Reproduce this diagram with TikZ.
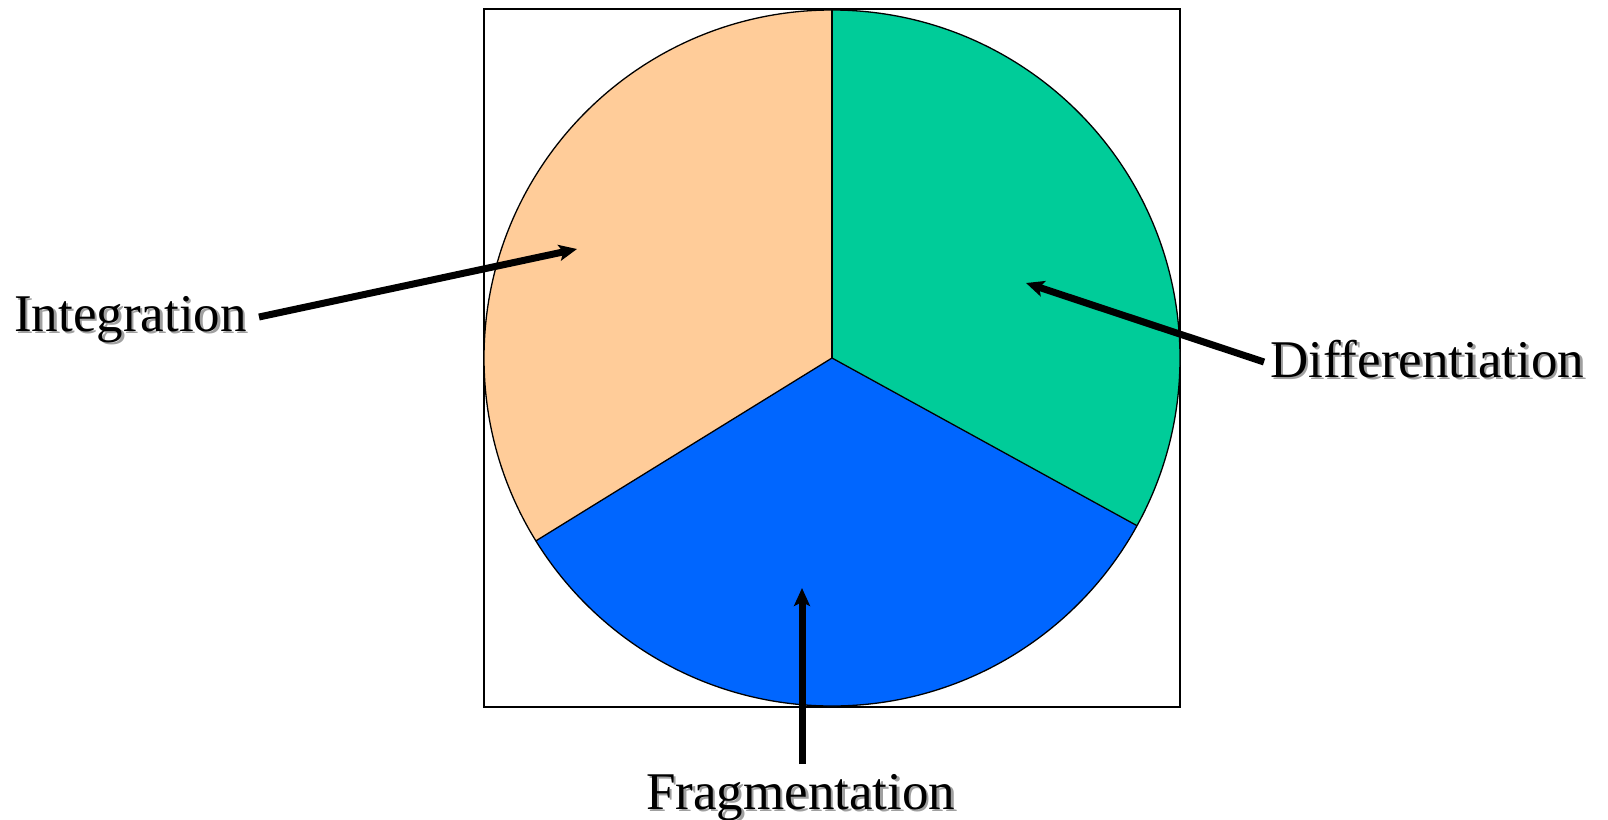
\documentclass[tikz,border=0pt]{standalone}
\usepackage{fontspec}
\setmainfont{Liberation Serif}
\usetikzlibrary{arrows.meta}
\definecolor{peach}{HTML}{FFCC99}
\definecolor{sea}{HTML}{00CC99}
\definecolor{royal}{HTML}{0066FF}
\definecolor{shadowgray}{HTML}{A0A0A0}
\begin{document}
\begin{tikzpicture}[x=1pt,y=-1pt,
  lbl/.style={anchor=base west,inner sep=0pt,font=\fontsize{53}{60}\selectfont},
  shd/.style={lbl,text=shadowgray},
  pointer/.style={line width=7pt,-{Stealth[length=18pt,width=16pt,inset=4pt]}}]
\useasboundingbox (0,0) rectangle (1608,819);
\coordinate (c) at (832,358);
\node[draw=black,line width=1.3pt,minimum width=696pt,minimum height=698pt,inner sep=0pt] (box) at (832,358) {};
% wedges (angles measured in screen sense; y axis flipped)
\fill[peach] (c) -- ++(-90:348) arc[start angle=-90,end angle=-211.7,radius=348] -- cycle;
\fill[royal] (c) -- ++(-211.7:348) arc[start angle=-211.7,end angle=-331.2,radius=348] -- cycle;
\fill[sea] (c) -- ++(-331.2:348) arc[start angle=-331.2,end angle=-450,radius=348] -- cycle;
\draw[line width=1.3pt] (c) circle[radius=348];
\draw[line width=1.3pt] (c) -- ++(-90:348);
\draw[line width=1.3pt] (c) -- ++(-211.7:348);
\draw[line width=1.3pt] (c) -- ++(-331.2:348);
% labels
\node[shd] (integs) at (16.5,333.5) {Integration};
\node[lbl] (integ) at (14,331) {Integration};
\node[shd] (diffs) at (1272.5,379.5) {Differentiation};
\node[lbl] (diff) at (1270,377) {Differentiation};
\node[shd] (frags) at (648.5,811.5) {Fragmentation};
\node[lbl] (frag) at (646,809) {Fragmentation};
% arrows
\coordinate (is) at (259,317);
\coordinate (it) at (577,249);
\coordinate (ds) at (1264,362);
\coordinate (dt) at (1026,283);
\coordinate (fs) at (802,764);
\coordinate (ft) at (802,588);
\draw[pointer] (is) -- (it);
\draw[pointer] (ds) -- (dt);
\draw[pointer] (fs) -- (ft);
\end{tikzpicture}
\end{document}
